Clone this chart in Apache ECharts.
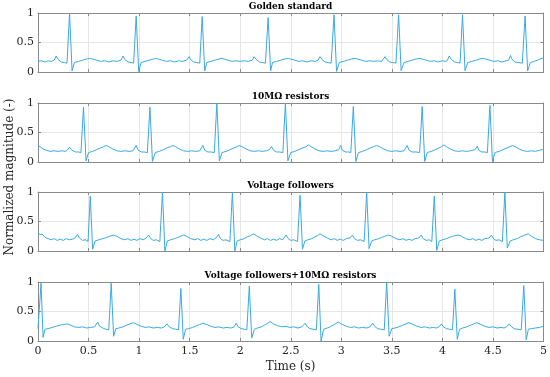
<!DOCTYPE html>
<html>
<head>
<meta charset="utf-8">
<script src="https://cdn.jsdelivr.net/npm/echarts@6/dist/echarts.min.js"></script>
<style>html,body{margin:0;padding:0;background:#fff;}#c{width:550px;height:377px;}</style>
</head>
<body>
<div id="c"></div>
<script>
var panelTitles = ['Golden standard', '10M\u03A9 resistors', 'Voltage followers', 'Voltage followers+10M\u03A9 resistors'];
var yName = 'Normalized magnitude (-)';
var xName = 'Time (s)';

var golden = [
[0,0.18],[0.03,0.19],[0.07,0.17],[0.10,0.19],[0.13,0.18],
[0.16,0.20],[0.18,0.27],[0.20,0.21],[0.23,0.17],[0.26,0.16],[0.287,0.15],[0.312,1.00],[0.337,0.02],[0.36,0.16],[0.40,0.18],[0.44,0.20],[0.48,0.22],[0.51,0.23],[0.54,0.22],[0.58,0.20],[0.62,0.18],[0.66,0.19],[0.70,0.17],[0.74,0.19],[0.78,0.18],
[0.82,0.20],[0.841,0.27],[0.86,0.21],[0.89,0.17],[0.92,0.16],[0.946,0.15],[0.971,0.95],[0.996,0.01],[1.02,0.16],[1.06,0.18],[1.10,0.20],[1.14,0.22],[1.16,0.23],[1.19,0.22],[1.23,0.20],[1.27,0.18],[1.31,0.19],[1.35,0.17],[1.39,0.19],[1.43,0.18],
[1.47,0.20],[1.494,0.26],[1.51,0.21],[1.54,0.17],[1.57,0.16],[1.60,0.15],[1.624,0.94],[1.649,0.02],[1.67,0.16],[1.71,0.18],[1.75,0.20],[1.79,0.22],[1.81,0.23],[1.84,0.22],[1.88,0.20],[1.92,0.18],[1.96,0.19],[2.00,0.18],[2.04,0.19],[2.08,0.18],
[2.12,0.20],[2.137,0.26],[2.16,0.21],[2.19,0.17],[2.22,0.16],[2.25,0.15],[2.276,0.92],[2.301,0.02],[2.32,0.16],[2.36,0.18],[2.40,0.20],[2.44,0.22],[2.476,0.23],[2.50,0.22],[2.54,0.20],[2.58,0.18],[2.62,0.19],[2.66,0.17],[2.70,0.19],[2.74,0.18],
[2.77,0.20],[2.79,0.26],[2.81,0.21],[2.84,0.17],[2.87,0.16],[2.90,0.15],[2.928,0.97],[2.953,0.01],[2.98,0.16],[3.02,0.18],[3.06,0.20],[3.10,0.22],[3.135,0.23],[3.16,0.22],[3.20,0.20],[3.24,0.18],[3.28,0.19],[3.32,0.18],[3.36,0.19],[3.40,0.18],
[3.415,0.20],[3.432,0.26],[3.45,0.21],[3.48,0.17],[3.51,0.16],[3.54,0.15],[3.567,0.97],[3.592,0.02],[3.62,0.16],[3.66,0.18],[3.70,0.20],[3.74,0.22],[3.778,0.23],[3.80,0.22],[3.84,0.20],[3.88,0.18],[3.92,0.19],[3.96,0.17],[4.00,0.19],[4.03,0.18],
[4.05,0.20],[4.067,0.27],[4.09,0.21],[4.12,0.17],[4.15,0.16],[4.175,0.15],[4.199,0.97],[4.224,0.02],[4.25,0.16],[4.29,0.18],[4.33,0.20],[4.37,0.22],[4.40,0.23],[4.43,0.22],[4.47,0.20],[4.51,0.18],[4.55,0.19],[4.59,0.17],[4.63,0.19],
[4.655,0.20],[4.674,0.28],[4.69,0.21],[4.72,0.17],[4.75,0.16],[4.79,0.15],[4.818,0.95],[4.843,0.02],[4.87,0.16],[4.91,0.18],[4.95,0.21],[5.00,0.24]
];

var resistors = [
[0,0.28],[0.02,0.26],[0.05,0.22],[0.08,0.20],[0.12,0.18],[0.16,0.19],[0.20,0.18],[0.24,0.19],[0.27,0.18],
[0.29,0.20],[0.313,0.25],[0.335,0.20],[0.37,0.17],[0.40,0.17],[0.425,0.16],[0.45,0.93],[0.475,0.02],[0.50,0.16],[0.54,0.18],[0.58,0.21],[0.62,0.24],[0.65,0.26],[0.675,0.28],[0.70,0.26],[0.74,0.22],[0.78,0.19],[0.82,0.18],[0.86,0.19],[0.90,0.18],[0.94,0.19],
[0.955,0.21],[0.971,0.28],[0.99,0.20],[1.02,0.17],[1.05,0.17],[1.082,0.16],[1.107,0.93],[1.132,0.01],[1.16,0.16],[1.20,0.18],[1.24,0.21],[1.28,0.24],[1.31,0.26],[1.334,0.28],[1.36,0.26],[1.40,0.22],[1.44,0.19],[1.48,0.18],[1.52,0.19],[1.56,0.18],[1.60,0.19],
[1.615,0.21],[1.63,0.28],[1.65,0.20],[1.68,0.17],[1.71,0.17],[1.744,0.16],[1.769,1.00],[1.794,0.02],[1.82,0.16],[1.86,0.18],[1.90,0.21],[1.94,0.24],[1.97,0.26],[1.99,0.28],[2.02,0.26],[2.06,0.22],[2.10,0.19],[2.14,0.18],[2.18,0.19],[2.22,0.18],[2.26,0.19],
[2.29,0.21],[2.31,0.26],[2.33,0.20],[2.36,0.17],[2.39,0.17],[2.422,0.16],[2.447,1.00],[2.472,0.02],[2.50,0.16],[2.54,0.18],[2.58,0.21],[2.62,0.24],[2.65,0.26],[2.674,0.29],[2.70,0.26],[2.74,0.22],[2.78,0.19],[2.82,0.18],[2.86,0.19],[2.90,0.18],[2.94,0.19],
[2.975,0.21],[2.994,0.28],[3.01,0.20],[3.04,0.17],[3.07,0.17],[3.094,0.16],[3.119,0.94],[3.144,0.01],[3.17,0.16],[3.21,0.18],[3.25,0.21],[3.29,0.24],[3.32,0.26],[3.35,0.28],[3.38,0.26],[3.42,0.22],[3.46,0.19],[3.50,0.18],[3.54,0.19],[3.58,0.18],[3.62,0.19],
[3.635,0.21],[3.652,0.28],[3.67,0.20],[3.70,0.17],[3.74,0.17],[3.775,0.16],[3.80,0.94],[3.825,0.01],[3.85,0.16],[3.89,0.18],[3.93,0.21],[3.97,0.24],[3.99,0.26],[4.015,0.29],[4.04,0.26],[4.08,0.22],[4.12,0.19],[4.16,0.18],[4.20,0.19],[4.24,0.18],[4.28,0.19],
[4.325,0.21],[4.344,0.27],[4.36,0.20],[4.39,0.17],[4.42,0.17],[4.445,0.16],[4.47,0.96],[4.495,0.01],[4.52,0.16],[4.56,0.18],[4.60,0.21],[4.64,0.24],[4.67,0.26],[4.694,0.28],[4.72,0.26],[4.76,0.22],[4.80,0.19],[4.84,0.18],[4.88,0.19],[4.92,0.18],[4.96,0.20],[5.00,0.21]
];

var followers = [
[0,0.31],[0.02,0.28],[0.04,0.29],[0.07,0.23],[0.10,0.21],[0.13,0.19],[0.16,0.21],[0.19,0.18],[0.22,0.20],[0.25,0.18],[0.28,0.21],[0.31,0.19],[0.34,0.20],
[0.365,0.22],[0.39,0.28],[0.41,0.22],[0.44,0.18],[0.47,0.19],[0.495,0.16],[0.517,0.93],[0.54,0.03],[0.565,0.17],[0.60,0.19],[0.64,0.21],[0.68,0.23],[0.71,0.25],[0.747,0.27],[0.78,0.25],[0.82,0.21],[0.86,0.19],[0.89,0.21],[0.92,0.18],[0.95,0.20],[0.98,0.18],[1.01,0.21],[1.04,0.19],
[1.07,0.22],[1.093,0.27],[1.115,0.21],[1.14,0.18],[1.17,0.19],[1.205,0.16],[1.231,1.00],[1.255,0.00],[1.28,0.17],[1.31,0.19],[1.35,0.21],[1.38,0.23],[1.41,0.25],[1.439,0.27],[1.47,0.25],[1.51,0.21],[1.55,0.19],[1.58,0.21],[1.61,0.18],[1.64,0.20],[1.67,0.18],[1.70,0.21],[1.735,0.19],
[1.76,0.22],[1.785,0.28],[1.805,0.21],[1.83,0.18],[1.86,0.19],[1.898,0.16],[1.923,1.00],[1.947,0.00],[1.97,0.17],[2.00,0.19],[2.04,0.21],[2.07,0.24],[2.10,0.26],[2.13,0.29],[2.16,0.26],[2.20,0.22],[2.24,0.19],[2.27,0.21],[2.30,0.18],[2.33,0.20],[2.36,0.18],[2.39,0.21],[2.42,0.19],
[2.435,0.22],[2.454,0.27],[2.475,0.21],[2.50,0.18],[2.53,0.19],[2.567,0.16],[2.592,0.945],[2.616,0.03],[2.64,0.17],[2.67,0.19],[2.71,0.21],[2.74,0.24],[2.765,0.26],[2.79,0.29],[2.82,0.26],[2.86,0.22],[2.90,0.19],[2.93,0.21],[2.96,0.18],[2.99,0.20],[3.02,0.18],[3.05,0.21],
[3.085,0.22],[3.11,0.27],[3.13,0.21],[3.16,0.18],[3.19,0.19],[3.226,0.16],[3.251,1.00],[3.275,0.04],[3.30,0.17],[3.33,0.19],[3.37,0.21],[3.40,0.23],[3.43,0.25],[3.465,0.27],[3.50,0.25],[3.54,0.21],[3.58,0.19],[3.61,0.21],[3.64,0.18],[3.67,0.20],[3.70,0.18],[3.73,0.21],[3.765,0.22],
[3.79,0.27],[3.81,0.21],[3.84,0.18],[3.87,0.19],[3.895,0.16],[3.92,0.93],[3.944,0.01],[3.97,0.17],[4.00,0.19],[4.04,0.21],[4.07,0.23],[4.10,0.25],[4.156,0.27],[4.19,0.25],[4.23,0.21],[4.27,0.19],[4.30,0.21],[4.33,0.18],[4.36,0.20],[4.39,0.18],[4.42,0.21],[4.46,0.22],
[4.485,0.27],[4.505,0.21],[4.53,0.18],[4.56,0.19],[4.593,0.16],[4.618,1.00],[4.642,0.05],[4.67,0.17],[4.70,0.19],[4.74,0.21],[4.77,0.24],[4.80,0.26],[4.848,0.29],[4.88,0.25],[4.92,0.21],[4.96,0.19],[5.00,0.18]
];

var followersRes = [
[0,0.21],[0.01,0.24],[0.03,0.98],[0.05,0.06],[0.07,0.20],[0.10,0.21],[0.14,0.23],[0.18,0.25],[0.22,0.27],[0.26,0.28],[0.29,0.29],[0.32,0.27],[0.36,0.24],[0.40,0.23],[0.44,0.24],[0.48,0.22],[0.52,0.23],[0.56,0.24],
[0.59,0.32],[0.61,0.25],[0.64,0.22],[0.67,0.20],[0.70,0.19],[0.724,0.98],[0.748,0.08],[0.77,0.21],[0.80,0.22],[0.84,0.24],[0.88,0.27],[0.91,0.29],[0.945,0.31],[0.98,0.28],[1.02,0.25],[1.06,0.23],[1.10,0.24],[1.14,0.22],[1.18,0.23],[1.22,0.22],[1.25,0.24],
[1.275,0.29],[1.30,0.24],[1.33,0.21],[1.36,0.20],[1.39,0.19],[1.413,0.89],[1.437,0.03],[1.46,0.20],[1.49,0.21],[1.53,0.23],[1.57,0.26],[1.60,0.28],[1.63,0.30],[1.67,0.28],[1.71,0.25],[1.75,0.23],[1.79,0.24],[1.83,0.22],[1.87,0.23],[1.91,0.22],[1.94,0.24],
[1.96,0.30],[1.98,0.24],[2.01,0.21],[2.04,0.20],[2.066,0.19],[2.09,0.93],[2.114,0.05],[2.14,0.20],[2.17,0.22],[2.21,0.24],[2.25,0.28],[2.27,0.30],[2.295,0.33],[2.33,0.29],[2.37,0.26],[2.41,0.24],[2.45,0.25],[2.49,0.23],[2.53,0.24],[2.57,0.22],[2.61,0.24],
[2.642,0.30],[2.665,0.24],[2.69,0.21],[2.72,0.20],[2.753,0.19],[2.777,0.96],[2.80,0.00],[2.825,0.20],[2.86,0.22],[2.89,0.24],[2.93,0.28],[2.95,0.30],[2.97,0.32],[3.01,0.28],[3.05,0.25],[3.09,0.23],[3.13,0.24],[3.17,0.22],[3.21,0.23],[3.25,0.22],[3.285,0.24],
[3.31,0.30],[3.335,0.24],[3.36,0.21],[3.39,0.20],[3.425,0.19],[3.449,1.00],[3.473,0.08],[3.50,0.21],[3.53,0.22],[3.57,0.24],[3.61,0.27],[3.64,0.29],[3.67,0.31],[3.71,0.28],[3.75,0.25],[3.79,0.23],[3.83,0.24],[3.87,0.22],[3.91,0.23],[3.94,0.22],[3.965,0.24],
[3.99,0.29],[4.01,0.24],[4.04,0.21],[4.07,0.20],[4.10,0.19],[4.123,0.88],[4.147,0.03],[4.17,0.20],[4.20,0.22],[4.24,0.24],[4.28,0.27],[4.31,0.29],[4.34,0.31],[4.38,0.28],[4.42,0.25],[4.46,0.23],[4.50,0.24],[4.54,0.22],[4.58,0.23],[4.61,0.22],[4.635,0.24],
[4.66,0.29],[4.685,0.24],[4.71,0.21],[4.74,0.20],[4.78,0.19],[4.805,0.94],[4.829,0.02],[4.85,0.20],[4.88,0.21],[4.92,0.22],[4.96,0.23],[5.00,0.25]
];

var allSeries = [golden, resistors, followers, followersRes];

var chart = echarts.init(document.getElementById('c'), null, {renderer: 'canvas'});
var border = '#8a8a8a';
var tickColor = '#262626';
var font = 'DejaVu Serif';
var gridTops = [13, 103, 192, 282];
var gridH = 59;
var grids = [], xAxes = [], yAxes = [], series = [], titles = [];
for (var i = 0; i < 4; i++) {
  grids.push({left: 38, right: 6.5, top: gridTops[i], height: gridH, containLabel: false});
  xAxes.push({gridIndex: i, type: 'value', min: 0, max: 5, interval: 0.5, position: 'bottom',
    axisLine: {show: true, onZero: false, lineStyle: {color: border, width: 1}},
    axisTick: {show: true, inside: true, length: 3, lineStyle: {color: border}},
    axisLabel: {show: i === 3, color: tickColor, fontFamily: font, fontSize: 11, margin: 5},
    splitLine: {show: true, lineStyle: {color: '#e6e6e6', width: 1}}});
  xAxes.push({gridIndex: i, type: 'value', min: 0, max: 5, interval: 0.5, position: 'top',
    axisLine: {show: true, onZero: false, lineStyle: {color: border, width: 1}},
    axisTick: {show: true, inside: true, length: 3, lineStyle: {color: border}},
    axisLabel: {show: false}, splitLine: {show: false}});
  yAxes.push({gridIndex: i, type: 'value', min: 0, max: 1, interval: 0.5, position: 'left',
    axisLine: {show: true, onZero: false, lineStyle: {color: border, width: 1}},
    axisTick: {show: true, inside: true, length: 3, lineStyle: {color: border}},
    axisLabel: {show: true, color: tickColor, fontFamily: font, fontSize: 11, margin: 4},
    splitLine: {show: true, lineStyle: {color: '#e6e6e6', width: 1}}});
  yAxes.push({gridIndex: i, type: 'value', min: 0, max: 1, interval: 0.5, position: 'right',
    axisLine: {show: true, onZero: false, lineStyle: {color: border, width: 1}},
    axisTick: {show: true, inside: true, length: 3, lineStyle: {color: border}},
    axisLabel: {show: false}, splitLine: {show: false}});
  series.push({type: 'line', xAxisIndex: 2 * i, yAxisIndex: 2 * i, data: allSeries[i],
    showSymbol: false, symbol: 'none', lineStyle: {color: '#3aa9e2', width: 1}, z: 3});
  titles.push({text: panelTitles[i], left: 290.5, top: gridTops[i] - 11, textAlign: 'center', padding: 0,
    textStyle: {fontFamily: font, fontWeight: 'bold', fontSize: 9, color: '#000'}});
}

chart.setOption({
  animation: false,
  backgroundColor: '#fff',
  title: titles,
  grid: grids,
  xAxis: xAxes,
  yAxis: yAxes,
  series: series,
  graphic: [
    {type: 'text', x: 10, y: 177, rotation: Math.PI / 2,
      style: {text: yName, font: '12px "DejaVu Serif"', fill: '#262626', textAlign: 'center', textVerticalAlign: 'middle'}},
    {type: 'text', x: 290.5, y: 367,
      style: {text: xName, font: '12px "DejaVu Serif"', fill: '#262626', textAlign: 'center', textVerticalAlign: 'middle'}}
  ]
});
</script>
</body>
</html>
